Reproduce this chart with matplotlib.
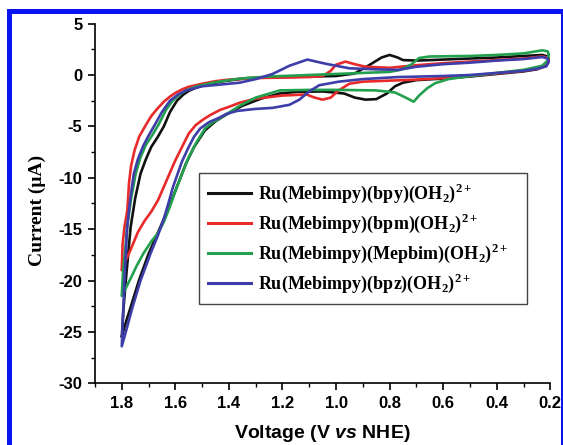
import matplotlib.pyplot as plt
from matplotlib.patches import Rectangle
from matplotlib.ticker import MultipleLocator

plt.rcParams['axes.unicode_minus'] = False
plt.rcParams['mathtext.fontset'] = 'custom'
plt.rcParams['mathtext.rm'] = 'Liberation Serif:bold'
plt.rcParams['mathtext.it'] = 'Liberation Sans:italic:bold'

# Cyclic voltammograms (V vs NHE, current in uA), forward sweep then return sweep
v_bpy = [0.205, 0.215, 0.25, 0.30, 0.40, 0.50, 0.60, 0.70, 0.75, 0.78, 0.81, 0.85, 0.89, 0.93, 0.97,
         1.05, 1.15, 1.21, 1.28, 1.35, 1.40, 1.45, 1.49, 1.53, 1.56, 1.59, 1.62, 1.656, 1.70, 1.736,
         1.767, 1.79, 1.80,
         1.793, 1.785, 1.767, 1.75, 1.73, 1.71, 1.69, 1.665, 1.643, 1.62, 1.594, 1.57, 1.55, 1.52, 1.48,
         1.42, 1.33, 1.20, 1.00, 0.93, 0.88, 0.83, 0.80, 0.77, 0.75, 0.70, 0.60, 0.50, 0.40, 0.30, 0.23,
         0.21, 0.205]
i_bpy = [1.5, 0.9, 0.55, 0.35, 0.1, -0.15, -0.35, -0.5, -0.75, -1.1, -1.8, -2.35, -2.4, -2.2, -1.8,
         -1.6, -1.65, -1.8, -2.3, -3.0, -3.7, -4.5, -5.4, -7.0, -8.6, -10.6, -12.6, -14.8, -17.4, -20.0,
         -22.6, -24.5, -25.5,
         -22.5, -20.0, -14.8, -12.0, -9.6, -8.2, -7.0, -6.0, -5.0, -3.6, -2.5, -1.9, -1.55, -1.2, -0.9,
         -0.6, -0.3, -0.2, -0.1, 0.15, 0.9, 1.7, 1.95, 1.7, 1.45, 1.4, 1.5, 1.6, 1.7, 1.85, 1.95,
         1.8, 1.5]

v_bpm = [0.205, 0.215, 0.25, 0.30, 0.40, 0.50, 0.60, 0.70, 0.80, 0.90, 0.95, 0.99, 1.02, 1.05, 1.08,
         1.11, 1.20, 1.30, 1.36, 1.40, 1.433, 1.47, 1.50, 1.525, 1.55, 1.575, 1.60, 1.625, 1.645, 1.665,
         1.69, 1.715, 1.74, 1.767, 1.79, 1.80,
         1.797, 1.79, 1.779, 1.773, 1.765, 1.752, 1.735, 1.711, 1.69, 1.668, 1.643, 1.62, 1.60, 1.575,
         1.55, 1.50, 1.45, 1.40, 1.30, 1.20, 1.10, 1.05, 1.02, 1.00, 0.965, 0.93, 0.89, 0.80, 0.70,
         0.60, 0.50, 0.40, 0.30, 0.23, 0.21, 0.205]
i_bpm = [1.4, 0.9, 0.6, 0.4, 0.15, -0.1, -0.3, -0.45, -0.55, -0.65, -0.85, -1.5, -2.2, -2.4, -2.2,
         -1.9, -2.0, -2.3, -2.7, -3.1, -3.4, -3.9, -4.4, -4.9, -5.7, -7.0, -8.3, -9.8, -11.0, -12.2,
         -13.3, -14.2, -15.3, -17.0, -18.3, -19.0,
         -16.5, -14.8, -13.1, -10.5, -8.8, -7.3, -6.0, -4.9, -4.0, -3.3, -2.6, -2.1, -1.75, -1.4,
         -1.15, -0.85, -0.6, -0.45, -0.3, -0.25, -0.2, -0.1, 0.4, 1.0, 1.3, 1.05, 0.8, 0.7, 0.95,
         1.15, 1.3, 1.45, 1.6, 1.8, 1.7, 1.4]

v_mepbim = [0.205, 0.21, 0.23, 0.30, 0.40, 0.50, 0.58, 0.63, 0.66, 0.69, 0.71, 0.74, 0.78, 0.85, 1.00,
            1.10, 1.21, 1.30, 1.36, 1.42, 1.46, 1.489, 1.52, 1.55, 1.575, 1.60, 1.62, 1.643, 1.665, 1.69,
            1.72, 1.745, 1.767, 1.79, 1.80,
            1.795, 1.787, 1.78, 1.765, 1.748, 1.73, 1.71, 1.685, 1.662, 1.635, 1.61, 1.585, 1.56, 1.52,
            1.45, 1.36, 1.25, 1.10, 1.00, 0.90, 0.80, 0.76, 0.72, 0.69, 0.65, 0.50, 0.40, 0.30, 0.23,
            0.21, 0.205]
i_mepbim = [2.0, 1.4, 0.9, 0.5, 0.2, -0.1, -0.4, -0.8, -1.3, -2.0, -2.6, -2.2, -1.7, -1.5, -1.45,
            -1.45, -1.5, -2.2, -3.0, -4.0, -4.6, -5.2, -6.5, -8.0, -9.6, -11.3, -12.8, -14.3, -15.4, -16.2,
            -17.4, -18.6, -19.8, -21.0, -21.5,
            -19.0, -17.0, -14.8, -12.0, -9.6, -8.0, -6.8, -5.8, -4.8, -3.4, -2.5, -1.9, -1.5, -1.1,
            -0.7, -0.35, -0.15, 0.0, 0.1, 0.2, 0.3, 0.5, 1.0, 1.65, 1.8, 1.85, 1.95, 2.1, 2.4,
            2.3, 2.0]

v_bpz = [0.205, 0.215, 0.25, 0.30, 0.40, 0.50, 0.60, 0.767, 0.90, 0.99, 1.063, 1.10, 1.137, 1.174,
         1.237, 1.30, 1.37, 1.41, 1.44, 1.475, 1.507, 1.53, 1.55, 1.575, 1.594, 1.61, 1.625, 1.643,
         1.665, 1.693, 1.73, 1.76, 1.785, 1.80,
         1.795, 1.79, 1.78, 1.768, 1.755, 1.74, 1.72, 1.70, 1.68, 1.65, 1.62, 1.59, 1.56, 1.50, 1.42,
         1.36, 1.30, 1.237, 1.174, 1.107, 1.04, 0.95, 0.85, 0.767, 0.70, 0.60, 0.50, 0.40, 0.30, 0.23,
         0.21, 0.205]
i_bpz = [1.3, 0.85, 0.6, 0.4, 0.2, 0.0, -0.1, -0.2, -0.4, -0.65, -1.0, -1.6, -2.4, -2.9,
         -3.2, -3.3, -3.5, -3.8, -4.2, -4.6, -5.2, -6.0, -7.0, -8.4, -9.8, -11.0, -12.4, -14.0,
         -15.6, -17.4, -20.0, -22.6, -25.0, -26.4,
         -23.0, -20.0, -14.8, -12.0, -9.6, -8.2, -6.9, -5.9, -5.0, -3.6, -2.5, -1.9, -1.5, -1.1, -0.9,
         -0.75, -0.4, 0.1, 0.9, 1.5, 1.1, 0.65, 0.55, 0.5, 0.8, 1.05, 1.2, 1.4, 1.55, 1.75,
         1.6, 1.3]

labels = [r'Ru(Mebimpy)(bpy)(OH$_2$)$^{2+}$',
          r'Ru(Mebimpy)(bpm)(OH$_2$)$^{2+}$',
          r'Ru(Mebimpy)(Mepbim)(OH$_2$)$^{2+}$',
          r'Ru(Mebimpy)(bpz)(OH$_2$)$^{2+}$']
colors = ['#111111', '#e82a2a', '#22a04e', '#3e3eaa']

fig = plt.figure(figsize=(5.63, 4.45), dpi=100)
ax = fig.add_axes([95 / 563, 61.7 / 445, 455.3 / 563, 359.7 / 445])

curves = [(v_bpy, i_bpy), (v_bpm, i_bpm), (v_mepbim, i_mepbim), (v_bpz, i_bpz)]
for (v, i), lab, c in zip(curves, labels, colors):
    ax.plot(v, i, color=c, lw=1.9, label=lab, solid_joinstyle='round')

ax.set_xlim(1.9, 0.2)
ax.set_ylim(-30, 5)
ax.xaxis.set_major_locator(MultipleLocator(0.2))
ax.xaxis.set_minor_locator(MultipleLocator(0.1))
ax.yaxis.set_major_locator(MultipleLocator(5))
ax.yaxis.set_minor_locator(MultipleLocator(2.5))
ax.set_xticks([1.8, 1.6, 1.4, 1.2, 1.0, 0.8, 0.6, 0.4, 0.2])
ax.set_xticklabels(['1.8', '1.6', '1.4', '1.2', '1.0', '0.8', '0.6', '0.4', '0.2'])

for s in ['top', 'right']:
    ax.spines[s].set_visible(False)
for s in ['left', 'bottom']:
    ax.spines[s].set_linewidth(1.2)
ax.tick_params(which='major', direction='out', length=5, width=1.2, pad=4)
ax.tick_params(which='minor', direction='out', length=3, width=1.0)
for t in ax.get_xticklabels() + ax.get_yticklabels():
    t.set_fontfamily('Liberation Sans')
    t.set_fontweight('bold')
    t.set_fontsize(12)

ax.set_ylabel('Current (μA)', family='Liberation Serif', weight='bold', fontsize=14)
ax.yaxis.set_label_coords(-0.108, 0.48)
ax.set_xlabel(r'Voltage (V $\mathit{vs}$ NHE)', family='Liberation Sans', weight='bold', fontsize=14)
ax.xaxis.set_label_coords(0.5, -0.11)

leg = ax.legend(loc='upper left', bbox_to_anchor=(0.228, 0.226, 0.721, 0.359), mode='expand',
                borderaxespad=0, fancybox=False, framealpha=1, edgecolor='#444444',
                prop={'family': 'Liberation Serif', 'weight': 'bold', 'size': 13},
                handlelength=2.4, handletextpad=0.4, labelspacing=0.38, borderpad=0.5)
leg.get_frame().set_linewidth(1.0)
for line in leg.get_lines():
    line.set_linewidth(2.2)

# blue frame around the picture
fig.patches.append(Rectangle((8.5 / 563, -0.05), (562.5 - 8.5) / 563, 0.05 + 434.5 / 445,
                             transform=fig.transFigure, fill=False, edgecolor='#0a14f0',
                             linewidth=3.6, zorder=10))

fig.savefig('out.png', dpi=100)
